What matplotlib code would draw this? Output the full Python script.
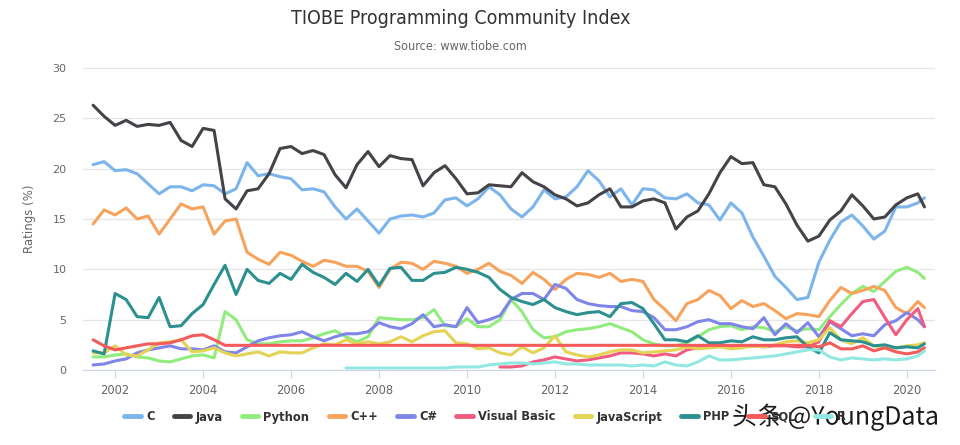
import numpy as np
import matplotlib.pyplot as plt
import matplotlib.patheffects as pe
from matplotlib import font_manager

nan = np.nan

# quarterly sample dates (decimal years), last point is May 2020
dates = list(np.arange(2001.5, 2020.3, 0.25)) + [2020.4]

languages = ["C", "Java", "Python", "C++", "C#", "Visual Basic",
             "JavaScript", "PHP", "SQL", "R"]
colors = ["#7cb5ec", "#434348", "#90ed7d", "#f7a35c", "#8085e9",
          "#f15c80", "#e4d354", "#2b908f", "#f45b5b", "#91e8e1"]

c_vals = [20.4, 20.7, 19.8, 19.9, 19.5, 18.5, 17.5, 18.2, 18.2, 17.8,
          18.4, 18.3, 17.5, 18.0, 20.6, 19.3, 19.5, 19.2, 19.0, 17.9,
          18.0, 17.7, 16.2, 15.0, 16.0, 14.8, 13.6, 15.0, 15.3, 15.4,
          15.2, 15.6, 16.9, 17.1, 16.3, 17.0, 18.2, 17.4, 16.0, 15.2,
          16.2, 17.9, 17.0, 17.2, 18.2, 19.8, 18.8, 17.2, 18.0, 16.4,
          18.0, 17.9, 17.1, 17.0, 17.5, 16.6, 16.4, 14.9, 16.6, 15.6,
          13.2, 11.3, 9.3, 8.2, 7.0, 7.2, 10.7, 12.9, 14.7, 15.4,
          14.3, 13.0, 13.8, 16.2, 16.2, 16.6, 17.1]

java_vals = [26.3, 25.2, 24.3, 24.8, 24.2, 24.4, 24.3, 24.6, 22.8, 22.2,
             24.0, 23.8, 17.0, 16.0, 17.8, 18.0, 19.5, 22.0, 22.2, 21.5,
             21.8, 21.4, 19.4, 18.1, 20.4, 21.7, 20.2, 21.3, 21.0, 20.9,
             18.3, 19.6, 20.3, 19.0, 17.5, 17.6, 18.4, 18.3, 18.2, 19.6,
             18.7, 18.2, 17.4, 17.0, 16.3, 16.6, 17.4, 18.0, 16.2, 16.2,
             16.8, 17.0, 16.6, 14.0, 15.2, 15.8, 17.5, 19.6, 21.2, 20.5,
             20.6, 18.4, 18.2, 16.5, 14.4, 12.8, 13.3, 14.9, 15.8, 17.4,
             16.3, 15.0, 15.2, 16.4, 17.1, 17.5, 16.2]

python_vals = [1.3, 1.3, 1.5, 1.6, 1.3, 1.2, 0.9, 0.8, 1.1, 1.4,
               1.5, 1.2, 5.8, 5.0, 3.0, 2.6, 2.6, 2.8, 2.9, 2.9,
               3.2, 3.6, 3.9, 3.3, 2.8, 3.3, 5.2, 5.1, 5.0, 5.0,
               5.2, 6.0, 4.4, 4.3, 5.1, 4.3, 4.3, 5.0, 7.0, 5.8,
               4.0, 3.2, 3.3, 3.8, 4.0, 4.1, 4.3, 4.6, 4.2, 3.8,
               3.0, 2.6, 2.4, 2.4, 2.7, 3.3, 4.0, 4.3, 4.4, 4.0,
               4.3, 4.2, 3.8, 4.3, 3.9, 4.1, 4.0, 5.3, 6.5, 7.6,
               8.3, 7.8, 8.8, 9.8, 10.2, 9.7, 9.1]

cpp_vals = [14.5, 15.9, 15.4, 16.1, 15.0, 15.3, 13.5, 15.0, 16.5, 16.0,
            16.2, 13.5, 14.8, 15.0, 11.7, 11.0, 10.5, 11.7, 11.4, 10.8,
            10.3, 10.9, 10.7, 10.3, 10.3, 9.8, 8.2, 10.0, 10.7, 10.6,
            10.0, 10.8, 10.6, 10.3, 9.6, 10.0, 10.6, 9.8, 9.4, 8.6,
            9.7, 9.0, 8.0, 9.0, 9.6, 9.5, 9.2, 9.6, 8.8, 9.0,
            8.8, 7.0, 6.0, 4.9, 6.6, 7.0, 7.9, 7.4, 6.1, 6.9,
            6.3, 6.6, 5.9, 5.1, 5.6, 5.5, 5.3, 6.9, 8.2, 7.6,
            7.9, 8.3, 7.9, 6.2, 5.6, 6.8, 6.2]

csharp_vals = [0.5, 0.6, 0.9, 1.1, 1.7, 2.0, 2.2, 2.4, 2.1, 2.1,
               2.0, 2.4, 1.8, 1.7, 2.3, 2.9, 3.2, 3.4, 3.5, 3.8,
               3.3, 2.9, 3.3, 3.6, 3.6, 3.8, 4.7, 4.3, 4.1, 4.6,
               5.5, 4.3, 4.5, 4.3, 6.2, 4.7, 5.0, 5.4, 7.0, 7.6,
               7.6, 7.0, 8.5, 8.1, 7.0, 6.6, 6.4, 6.3, 6.3, 5.9,
               5.8, 5.2, 4.0, 4.0, 4.3, 4.8, 5.0, 4.6, 4.6, 4.3,
               4.1, 5.2, 3.5, 4.6, 3.7, 4.7, 3.3, 4.8, 4.1, 3.4,
               3.6, 3.4, 4.5, 4.9, 5.7, 5.0, 4.3]

vb_vals = [nan] * 37 + [
    0.3, 0.3, 0.4, 0.8, 1.0, 1.3, 1.1, 0.9, 1.0, 1.2,
    1.4, 1.7, 1.7, 1.6, 1.4, 1.6, 1.4, 2.0, 2.2, 2.4,
    2.4, 2.3, 2.4, 2.4, 2.3, 2.4, 2.4, 2.3, 2.3, 2.8,
    4.9, 4.3, 5.6, 6.8, 7.0, 5.2, 3.5, 5.0, 6.1, 4.3]

js_vals = [1.7, 1.7, 2.4, 1.5, 1.4, 2.0, 2.7, 2.8, 3.0, 1.8,
           1.9, 2.2, 1.7, 1.4, 1.6, 1.8, 1.4, 1.8, 1.7, 1.7,
           2.2, 2.6, 2.5, 3.0, 2.6, 2.8, 2.6, 2.8, 3.3, 2.8,
           3.4, 3.8, 3.9, 2.7, 2.6, 2.1, 2.2, 1.7, 1.5, 2.3,
           1.7, 2.2, 3.4, 1.8, 1.5, 1.3, 1.5, 1.8, 2.0, 2.0,
           1.7, 1.8, 1.9, 2.0, 2.3, 2.1, 2.2, 2.3, 2.1, 2.2,
           2.4, 2.3, 2.5, 2.8, 2.9, 2.7, 3.0, 4.2, 3.0, 2.6,
           3.2, 2.4, 2.3, 2.2, 2.4, 2.5, 2.7]

php_vals = [1.9, 1.6, 7.6, 7.0, 5.3, 5.2, 7.2, 4.3, 4.4, 5.6,
            6.5, 8.5, 10.4, 7.5, 10.0, 8.9, 8.6, 9.6, 9.0, 10.5,
            9.7, 9.2, 8.5, 9.6, 8.8, 10.0, 8.4, 10.1, 10.2, 8.9,
            8.9, 9.6, 9.7, 10.2, 10.0, 9.7, 9.2, 8.0, 7.2, 6.8,
            6.5, 7.0, 6.2, 5.8, 5.5, 5.7, 5.8, 5.3, 6.6, 6.7,
            6.1, 4.6, 3.0, 3.0, 2.8, 3.4, 2.7, 2.7, 2.9, 2.8,
            3.3, 3.0, 3.0, 3.2, 3.3, 2.3, 1.7, 3.7, 3.0, 2.9,
            2.8, 2.4, 2.5, 2.2, 2.3, 2.2, 2.6]

# SQL sits on a flat 2.45 between mid 2004 and 2018
sql_vals = ([3.0, 2.4, 2.0, 2.2, 2.4, 2.6, 2.6, 2.7, 3.0, 3.4, 3.5, 3.0]
            + [2.45] * 54
            + [2.3, 2.7, 2.1, 2.1, 2.4, 1.9, 2.2, 1.8, 1.6, 1.8, 2.2])

r_vals = [nan] * 23 + [
    0.2, 0.2, 0.2, 0.2, 0.2, 0.2, 0.2, 0.2, 0.2, 0.2,
    0.3, 0.3, 0.3, 0.5, 0.6, 0.7, 0.7, 0.6, 0.7, 0.8,
    0.6, 0.6, 0.5, 0.5, 0.5, 0.5, 0.4, 0.5, 0.4, 0.8,
    0.5, 0.4, 0.8, 1.4, 1.0, 1.0, 1.1, 1.2, 1.3, 1.4,
    1.6, 1.8, 2.0, 2.0, 1.3, 1.0, 1.2, 1.1, 1.0, 1.1,
    1.0, 1.1, 1.4, 1.9]

series = [c_vals, java_vals, python_vals, cpp_vals, csharp_vals, vb_vals,
          js_vals, php_vals, sql_vals, r_vals]


def narrow(size, weight="normal"):
    # condensed DejaVu if it is installed, plain DejaVu otherwise
    return font_manager.FontProperties(family="DejaVu Sans",
                                       stretch="condensed",
                                       weight=weight, size=size)


W, H = 960, 445
fig = plt.figure(figsize=(W / 100, H / 100), dpi=100)
ax = fig.add_axes([83 / W, 75 / H, (935 - 83) / W, (370 - 68) / H])

for name, vals, col in zip(languages, series, colors):
    ax.plot(dates, vals, color=col, lw=2.2, label=name,
            solid_joinstyle="round", solid_capstyle="round")

ax.set_xlim(2001.27, 2020.64)
ax.set_ylim(0, 30)
ax.set_yticks(range(0, 31, 5))
ax.set_xticks(range(2002, 2021, 2))
ax.grid(axis="y", color="#e6e6e6", lw=0.9)
ax.set_axisbelow(True)
for side in ["top", "right", "left"]:
    ax.spines[side].set_visible(False)
ax.spines["bottom"].set_color("#ccd6eb")
ax.tick_params(axis="y", length=0, pad=12, labelsize=8, labelcolor="#666666")
ax.tick_params(axis="x", length=6, color="#ccd6eb", pad=4, labelsize=8.3,
               labelcolor="#666666")
ax.set_ylabel("Ratings (%)", color="#666666", fontsize=8.5, labelpad=12)

fig.text(0.48, 1 - 18 / H, "TIOBE Programming Community Index",
         ha="center", va="center", color="#333333",
         fontproperties=narrow(14))
fig.text(0.48, 1 - 46 / H, "Source: www.tiobe.com", ha="center", va="center",
         color="#666666", fontproperties=narrow(9))

leg = fig.legend(loc="center", bbox_to_anchor=(0.505, 28 / H), ncol=10,
                 frameon=False, handlelength=1.3, handletextpad=0.4,
                 columnspacing=1.5, prop=narrow(9.2, "bold"))
for t in leg.get_texts():
    t.set_color("#333333")
for h in leg.legend_handles:
    h.set_linewidth(3.5)

fig.text(732 / W, 28 / H, "头条 @YoungData", ha="left", va="center",
         fontsize=18, color="#1a1a1a",
         family=["Noto Sans CJK SC", "DejaVu Sans"],
         path_effects=[pe.withStroke(linewidth=3, foreground="white")])

fig.savefig("out.png", dpi=100, facecolor="white")
